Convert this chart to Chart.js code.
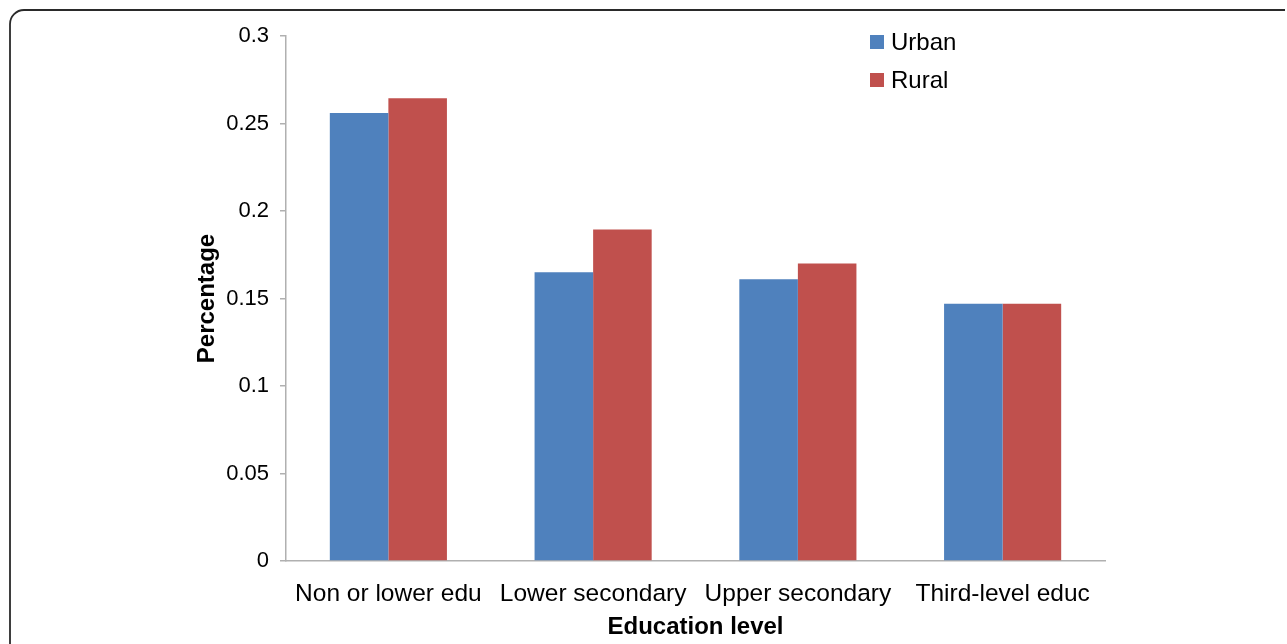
<!DOCTYPE html>
<html>
<head>
<meta charset="utf-8">
<script src="https://cdn.jsdelivr.net/npm/chart.js@4/dist/chart.umd.min.js"></script>
<style>
  html, body { margin: 0; padding: 0; background: #fff; }
  #wrap { width: 1287px; height: 644px; position: relative; }
</style>
</head>
<body>
<div id="wrap"><canvas id="c" width="1287" height="644"></canvas></div>
<script>
const categories = ['Non or lower edu', 'Lower secondary', 'Upper secondary', 'Third-level educ'];
const urbanValues = [0.256, 0.165, 0.161, 0.147];
const ruralValues = [0.2645, 0.1895, 0.170, 0.147];
const seriesNames = ['Urban', 'Rural'];
const seriesColors = ['#4F81BD', '#C0504D'];
const yTicks = [0, 0.05, 0.1, 0.15, 0.2, 0.25, 0.3];

const FONT = '"Liberation Sans", Arial, Helvetica, sans-serif';

const frame = {
  id: 'frame',
  beforeDraw(chart) {
    const ctx = chart.ctx;
    ctx.save();
    ctx.strokeStyle = '#2a2a2a';
    ctx.lineWidth = 1.8;
    const x = 10, y = 10, r = 14;
    ctx.beginPath();
    ctx.moveTo(x, 700);
    ctx.lineTo(x, y + r);
    ctx.arcTo(x, y, x + r, y, r);
    ctx.lineTo(1285, y);
    ctx.stroke();
    ctx.restore();
  }
};

const legendPlugin = {
  id: 'customLegend',
  afterDraw(chart) {
    const ctx = chart.ctx;
    ctx.save();
    ctx.font = '24px ' + FONT;
    ctx.textBaseline = 'middle';
    ctx.textAlign = 'left';
    chart.data.datasets.forEach((ds, i) => {
      const cy = 42 + i * 38;
      ctx.fillStyle = ds.backgroundColor;
      ctx.fillRect(870, cy - 7, 14, 14);
      ctx.fillStyle = '#000';
      ctx.fillText(ds.label, 891, cy + 1);
    });
    ctx.restore();
  }
};

new Chart(document.getElementById('c'), {
  type: 'bar',
  data: {
    labels: categories,
    datasets: [
      { label: seriesNames[0], data: urbanValues, backgroundColor: seriesColors[0], borderWidth: 0 },
      { label: seriesNames[1], data: ruralValues, backgroundColor: seriesColors[1], borderWidth: 0 }
    ]
  },
  options: {
    responsive: false,
    animation: false,
    devicePixelRatio: 1,
    layout: { padding: { left: 193, right: 182, top: 36, bottom: 0 } },
    plugins: { legend: { display: false }, tooltip: { enabled: false } },
    datasets: { bar: { categoryPercentage: 0.572, barPercentage: 1.0 } },
    scales: {
      x: {
        grid: { display: false, drawTicks: false },
        border: { display: true, color: '#b0b0b0', width: 1.5 },
        ticks: { color: '#000', font: { family: FONT, size: 24.5 }, padding: 19, maxRotation: 0, autoSkip: false },
        title: { display: true, text: 'Education level', color: '#000', font: { family: FONT, size: 24, weight: 'bold' }, padding: { top: 0, bottom: 2 } },
        afterFit(s) { s.height = 83; }
      },
      y: {
        min: 0, max: 0.3,
        afterBuildTicks(s) { s.ticks = yTicks.map(v => ({ value: v })); },
        grid: { display: true, drawOnChartArea: false, drawTicks: true, tickLength: 6, color: '#b0b0b0', lineWidth: 1.5 },
        border: { display: true, color: '#b0b0b0', width: 1.5 },
        ticks: { color: '#000', font: { family: FONT, size: 22 }, padding: 11, callback: v => String(+v.toFixed(2)) },
        title: { display: true, text: 'Percentage', color: '#000', font: { family: FONT, size: 24, weight: 'bold' }, padding: { top: 0, bottom: 0 } },
        afterFit(s) { s.width = 93; }
      }
    }
  },
  plugins: [frame, legendPlugin]
});
</script>
</body>
</html>
